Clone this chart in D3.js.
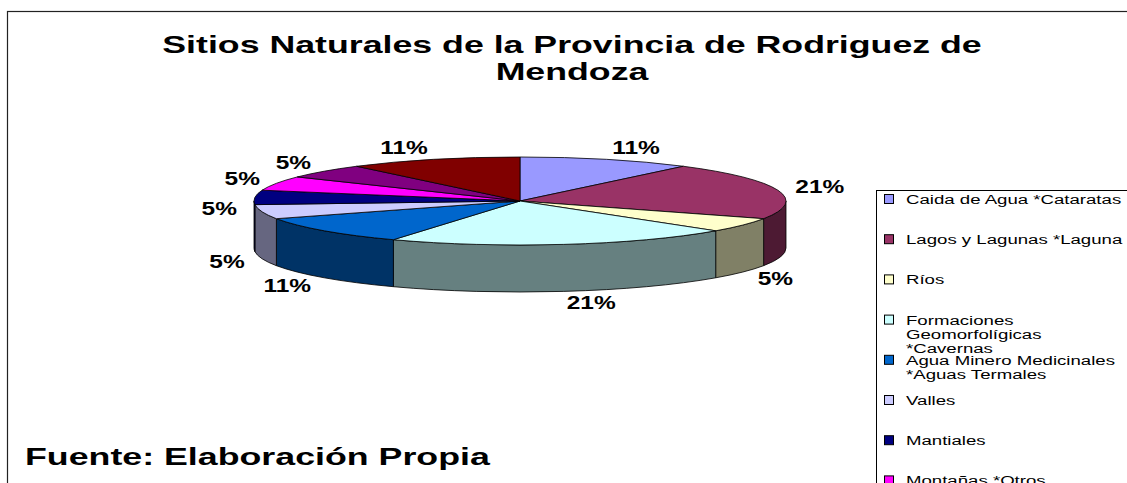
<!DOCTYPE html>
<html>
  <head>
    <meta charset="utf-8" />
    <title>Sitios Naturales de la Provincia de Rodriguez de Mendoza</title>
    <script src="https://d3js.org/d3.v7.min.js" charset="utf-8"></script>
    <style>
      html, body { margin: 0; padding: 0; background: #fff; overflow: hidden; }
      text { font-family: Arial, "Liberation Sans", sans-serif; }
    </style>
  </head>
  <body>
    <svg id="chart"></svg>
    <script>
      // datos (cantidad de sitios por tipo)
      const categories = [
        ["Caida de Agua *Cataratas"],
        ["Lagos y Lagunas *Laguna"],
        ["Ríos"],
        ["Formaciones", "Geomorfolígicas", "*Cavernas"],
        ["Agua Minero Medicinales", "*Aguas Termales"],
        ["Valles"],
        ["Mantiales"],
        ["Montañas *Otros"],
        ["Bosques"],
        ["Otros"]
      ];
      const values = [2, 4, 1, 4, 2, 1, 1, 1, 1, 2];
      const colors = ["#9999FF", "#993366", "#FFFFCC", "#CCFFFF", "#0066CC",
                      "#CCCCFF", "#000080", "#FF00FF", "#800080", "#800000"];
      const titleLines = ["Sitios Naturales de la Provincia de Rodriguez de", "Mendoza"];
      const sourceText = "Fuente: Elaboración Propia";

      const W = 1127, H = 483;
      const cx = 520, cy = 201, rx = 266, ry = 44, depth = 47;

      const svg = d3.select("#chart").attr("width", W).attr("height", H);

      // marco del grafico
      svg.append("rect")
        .attr("x", 7.5).attr("y", 11.5)
        .attr("width", W + 20).attr("height", H + 20)
        .attr("fill", "none").attr("stroke", "#222").attr("stroke-width", 1.2);

      // el texto original esta estirado en horizontal (sx)
      function stretchedText(g, x, y, str, size, weight, anchor, sx) {
        return g.append("text")
          .attr("transform", `translate(${x},${y}) scale(${sx},1)`)
          .attr("text-anchor", anchor)
          .attr("font-size", size)
          .attr("font-weight", weight)
          .attr("fill", "#000")
          .text(str);
      }

      titleLines.forEach((t, i) => {
        stretchedText(svg, 572, 53 + i * 27, t, 23.5, "bold", "middle", 1.52);
      });
      stretchedText(svg, 25, 465, sourceText, 24.5, "bold", "start", 1.46);

      // pastel 3D
      const arcs = d3.pie().sort(null).value((d) => d)(values);
      const pt = (a, dy = 0) => [cx + rx * Math.sin(a), cy - ry * Math.cos(a) + dy];
      const darker = (c) => {
        const k = d3.rgb(c);
        return d3.rgb(k.r * 0.5, k.g * 0.5, k.b * 0.5).toString();
      };

      const pie = svg.append("g");
      const lo = Math.PI / 2, hi = (3 * Math.PI) / 2;

      // caras laterales (solo la mitad frontal es visible)
      arcs.forEach((d, i) => {
        const b0 = Math.max(d.startAngle, lo), b1 = Math.min(d.endAngle, hi);
        if (b1 <= b0) return;
        const p0 = pt(b0), p1 = pt(b1), q0 = pt(b0, depth), q1 = pt(b1, depth);
        const path = `M${p0}A${rx},${ry} 0 0 1 ${p1}L${q1}A${rx},${ry} 0 0 0 ${q0}Z`;
        pie.append("path")
          .attr("d", path)
          .attr("fill", darker(colors[i]))
          .attr("stroke", "#000").attr("stroke-width", 0.8)
          .attr("stroke-linejoin", "round");
      });

      // caras superiores
      arcs.forEach((d, i) => {
        const p0 = pt(d.startAngle), p1 = pt(d.endAngle);
        const large = d.endAngle - d.startAngle > Math.PI ? 1 : 0;
        pie.append("path")
          .attr("d", `M${cx},${cy}L${p0}A${rx},${ry} 0 ${large} 1 ${p1}Z`)
          .attr("fill", colors[i])
          .attr("stroke", "#000").attr("stroke-width", 0.8)
          .attr("stroke-linejoin", "round");
      });

      // etiquetas de porcentaje
      const total = d3.sum(values);
      const fmt = (v) => Math.round((v / total) * 100) + "%";
      arcs.forEach((d, i) => {
        const a = (d.startAngle + d.endAngle) / 2;
        const s = Math.sin(a), c = Math.cos(a);
        const f = Math.max(0, Math.min(1, 0.6 - 4 * c));
        const x = cx + (rx + 18) * s;
        const y = cy - (ry + 12) * c + depth * f;
        stretchedText(svg, x, y + 6, fmt(values[i]), 17.5, "bold", s >= 0 ? "start" : "end", 1.4);
      });

      // leyenda
      const legend = svg.append("g");
      legend.append("rect")
        .attr("x", 876.5).attr("y", 190.5)
        .attr("width", 300).attr("height", 400)
        .attr("fill", "#fff").attr("stroke", "#000").attr("stroke-width", 1);

      let rowY = 199;
      categories.forEach((lines, i) => {
        legend.append("rect")
          .attr("x", 884.5).attr("y", rowY - 4.5)
          .attr("width", 9).attr("height", 9)
          .attr("fill", colors[i]).attr("stroke", "#000").attr("stroke-width", 1);
        lines.forEach((l, j) => {
          stretchedText(legend, 906, rowY + 5 + j * 14.3, l, 13.5, "normal", "start", 1.38);
        });
        rowY += 40.2;
      });
    </script>
  </body>
</html>
